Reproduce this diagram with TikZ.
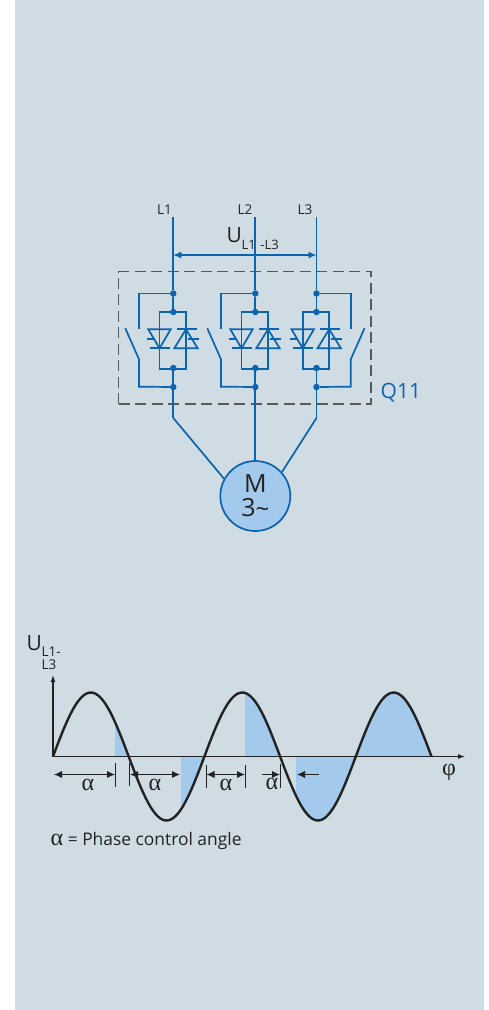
\documentclass[tikz,border=0pt]{standalone}
\usepackage{fontspec}
\setmainfont{Open Sans}
\newfontfamily\greekfont{Liberation Serif}
\usetikzlibrary{arrows.meta, calc}
\definecolor{panel}{HTML}{CFDCE4}
\definecolor{wire}{HTML}{0A64AF}
\definecolor{waveblue}{HTML}{A3C9EC}
\definecolor{ink}{HTML}{222222}
\tikzset {
    wire line/.style = {draw = wire, line width = 1.7pt},
    vertex/.style = {circle, fill = wire, inner sep = 0pt, minimum size = 6.5pt},
    tag/.style = {inner sep = 0pt, text = ink},
    sine/.style = {draw = ink, line width = 2.4pt, line join = round},
    axis/.style = {draw = ink, line width = 1.2pt, -{Latex[length = 7pt, width = 5pt]}},
    dim/.style = {draw = ink, line width = .8pt, {Latex[length = 8pt, width = 7pt]}-{Latex[length = 8pt, width = 7pt]}},
    dim end/.style = {draw = ink, line width = .8pt, -{Latex[length = 8pt, width = 7pt]}},
    tick/.style = {draw = ink, line width = .7pt},
    alpha/.style = {tag, font = \greekfont\fontsize{24}{24}\selectfont},
}
% half wave fill between two angles given in pixels
\newcommand{\wavefill}[2]{
    \fill [waveblue] plot [domain = #1:#2, samples = 40]
        (\x, {-756.5 + 64 * sin((\x - 53) / 75.7 * 180)}) -- (#2, -756.5) -- (#1, -756.5) -- cycle;
}
\begin{document}
\begin{tikzpicture}[x = 1pt, y = 1pt]
    \useasboundingbox (0, 0) rectangle (489, -1010);
    \fill [white] (0, 0) rectangle (489, -1010);
    \fill [panel] (15, 0) rectangle (484, -1010);
    % dashed enclosure
    \node (box) [draw = ink!75, dash pattern = on 11pt off 5.5pt, line width = 1.1pt, inner sep = 0pt,
        minimum width = 252.5pt, minimum height = 132.5pt] at (244.75, -337.75) {};
    \node (q) [anchor = west, inner sep = 0pt, text = wire, font = \fontsize{21}{21}\selectfont] at (380.5, -392.5) {Q11};
    % motor
    \node (motor) [circle, draw = wire, fill = waveblue, line width = 1.7pt, inner sep = 0pt, minimum size = 70pt] at (255.3, -496) {};
    \node (m) [tag, font = \fontsize{25}{25}\selectfont] at (255.3, -484) {M};
    \node (n) [tag, font = \fontsize{25}{25}\selectfont] at (255.3, -508) {3\raisebox{-1pt}{\fontsize{24}{24}\selectfont\char"007E}};
    % the three legs, switch side is given by \s
    \foreach \leg/\x/\s/\lab/\labx in {a/173.3/-1/L1/164.5, b/255.3/-1/L2/245, c/316.5/1/L3/305} {
        \node (\leg-lab) [tag, font = \fontsize{13.5}{13.5}\selectfont] at (\labx, -210) {\lab};
        \coordinate (\leg-top) at (\x, -217);
        \node (\leg-t1) [vertex] at (\x, -293.5) {};
        \node (\leg-t2) [vertex] at (\x, -312) {};
        \node (\leg-b2) [vertex] at (\x, -368) {};
        \node (\leg-b1) [vertex] at (\x, -387) {};
        \coordinate (\leg-low) at (\x, -418);
        \draw [wire line] (\leg-top) -- (\leg-t1) -- (\leg-t2);
        \draw [wire line] (\leg-b2) -- (\leg-b1) -- (\leg-low);
        % bridge round the thyristors
        \draw [wire line] (\x - 13.8, -312) rectangle (\x + 12.7, -369);
        % thyristor pointing down
        \coordinate (\leg-p) at (\x - 13.8, -348.3);
        \draw [wire line, line join = miter] ($(\leg-p) + (-11.2, 19)$) -- ($(\leg-p) + (11.2, 19)$) -- (\leg-p) -- cycle;
        \draw [wire line] ($(\leg-p) + (-10, 0)$) -- ($(\leg-p) + (10, 0)$);
        \draw [wire line] ($(\leg-p) + (-12.8, 9)$) -- ($(\leg-p) + (-4.5, 9)$);
        % thyristor pointing up
        \coordinate (\leg-r) at (\x + 12.7, -329.3);
        \draw [wire line, line join = miter] ($(\leg-r) + (-11.7, -19)$) -- ($(\leg-r) + (11.7, -19)$) -- (\leg-r) -- cycle;
        \draw [wire line] ($(\leg-r) + (-9.3, 0)$) -- ($(\leg-r) + (10.7, 0)$);
        \draw [wire line] ($(\leg-r) + (2, -9.4)$) -- ($(\leg-r) + (13, -9.4)$);
        % bypass switch
        \coordinate (\leg-sw) at (\x + \s * 34.3, -329);
        \coordinate (\leg-sa) at (\x + \s * 34.3, -359.3);
        \coordinate (\leg-sb) at (\x + \s * 34.3, -386.7);
        \coordinate (\leg-sc) at (\x + \s * 34.3, -293.5);
        \coordinate (\leg-tip) at (\x + \s * 48, -328.3);
        \draw [wire line, line join = miter] (\leg-t1) -- (\leg-sc) -- (\leg-sw);
        \draw [wire line, line join = miter] (\leg-tip) -- (\leg-sa) -- (\leg-sb) -- (\leg-b1);
    }
    % feeds to the motor
    \draw [wire line] (a-low) -- (motor.151);
    \draw [wire line] (b-low) -- (motor.north);
    \draw [wire line] (c-low) -- (motor.42);
    % line voltage
    \draw [draw = wire, line width = 1.2pt, {Latex[length = 8pt, width = 7pt]}-{Latex[length = 8pt, width = 7pt]}] (a-top |- 0, -255) -- (c-top |- 0, -255);
    \node (u) [tag, anchor = base west, font = \fontsize{21}{21}\selectfont] at (226.5, -242.7) {U};
    \node (ul) [tag, anchor = base west, font = \fontsize{13}{13}\selectfont] at (241.5, -249.5) {L1\hspace{4.5pt}-L3};
    % wave shading
    \wavefill{115}{128.7}
    \wavefill{181}{204.4}
    \wavefill{245}{280.1}
    \wavefill{296}{355.8}
    \wavefill{355.8}{431.5}
    % axes
    \coordinate (origin) at (53, -756.5);
    \coordinate (y-end) at (53, -675);
    \coordinate (x-end) at (465, -756.5);
    \draw [axis] (origin) -- (y-end);
    \draw [axis] (origin) -- (x-end);
    \draw [sine] plot [domain = 53:431.5, samples = 160] (\x, {-756.5 + 64 * sin((\x - 53) / 75.7 * 180)});
    % axis labels
    \node (v) [tag, anchor = base west, font = \fontsize{21}{21}\selectfont] at (26.5, -650) {U};
    \node (v1) [tag, anchor = base west, font = \fontsize{13.5}{13.5}\selectfont] at (41.5, -656) {L1-};
    \node (v2) [tag, anchor = base west, font = \fontsize{13.5}{13.5}\selectfont] at (41.5, -669.5) {L3};
    \node (phi) [alpha] at (449, -772) {\char"03C6};
    % firing angle marks
    \foreach \name/\x/\ya/\yb in {p/115.3/-763/-787, q/129.3/-763/-786, r/206/-765/-788, s/245.7/-765/-788, t/280.7/-764/-788} {
        \coordinate (\name-up) at (\x, \ya);
        \coordinate (\name-dn) at (\x, \yb);
        \draw [tick] (\name-up) -- (\name-dn);
    }
    \coordinate (d1) at (54, -774.5);
    \coordinate (d2) at (115, -774.5);
    \coordinate (d3) at (130, -774.5);
    \coordinate (d4) at (180, -774.5);
    \coordinate (d5) at (206.5, -774.5);
    \coordinate (d6) at (245, -774.5);
    \coordinate (d7) at (262, -774.5);
    \coordinate (d8) at (280, -774.5);
    \coordinate (d9) at (318.7, -774.5);
    \coordinate (d10) at (297, -774.5);
    \draw [dim] (d1) -- (d2);
    \draw [dim] (d3) -- (d4);
    \draw [dim] (d5) -- (d6);
    \draw [dim end] (d7) -- (d8);
    \draw [dim end] (d9) -- (d10);
    \node (al1) [alpha] at (88, -785) {\char"03B1};
    \node (al2) [alpha] at (155, -785) {\char"03B1};
    \node (al3) [alpha] at (226, -785) {\char"03B1};
    \node (al4) [alpha] at (272, -784) {\char"03B1};
    % legend
    \node (legend) [tag, anchor = base west, font = \fontsize{17.4}{17.4}\selectfont] at (50.5, -845.5) {{\greekfont\fontsize{24}{24}\selectfont\char"03B1} = Phase control angle};
\end{tikzpicture}
\end{document}
